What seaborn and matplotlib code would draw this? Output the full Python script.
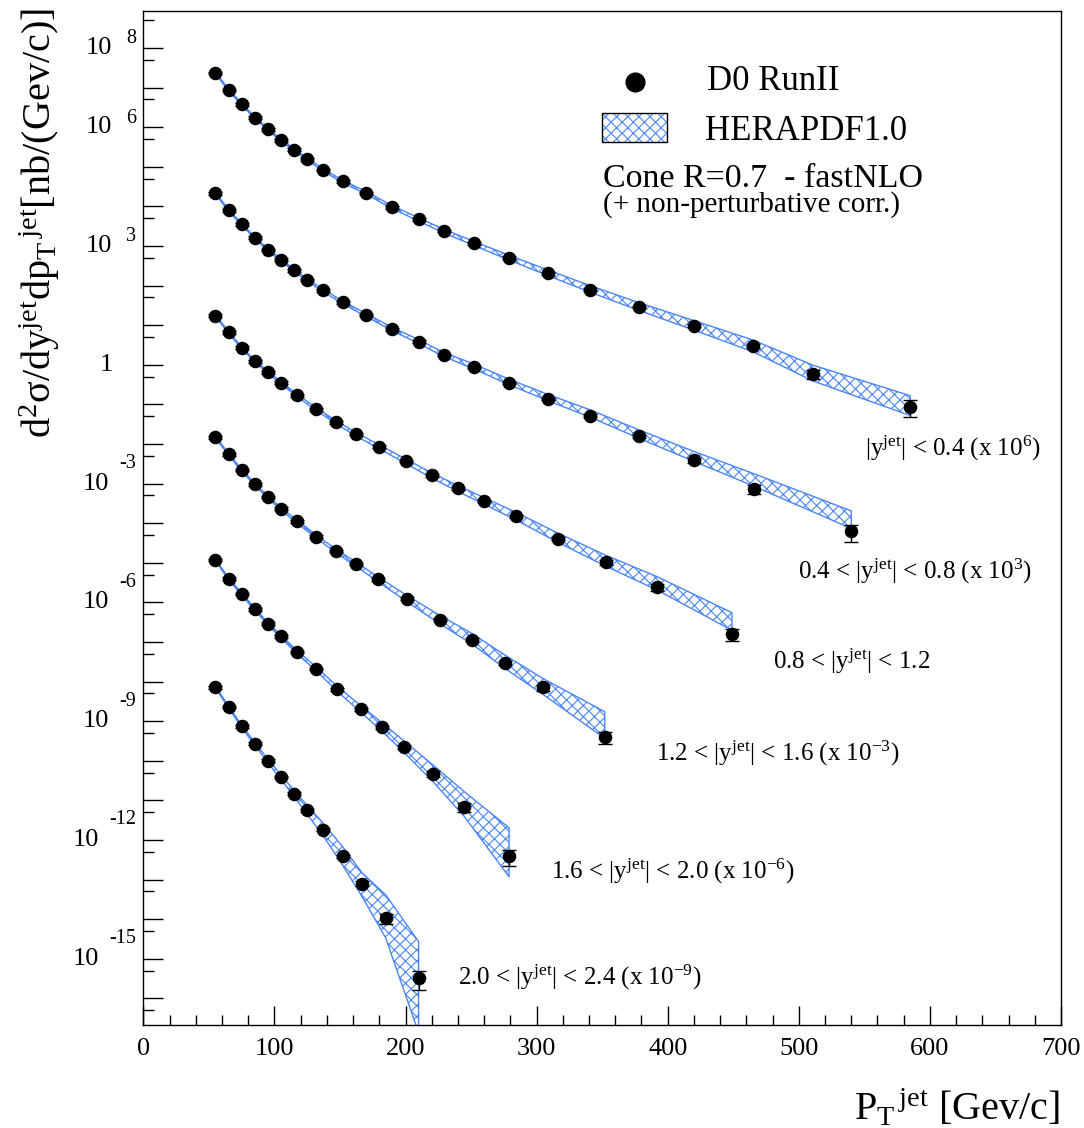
import numpy as np
import pandas as pd
import matplotlib
matplotlib.use("Agg")
import matplotlib.pyplot as plt
from matplotlib.patches import Rectangle
from matplotlib.lines import Line2D
import seaborn as sns

# Measured points: pT bin positions [GeV], cross sections [nb/GeV] (unscaled),
# relative data errors, and HERAPDF1.0 theory (ratio theory/data, rel. uncertainty)
pt_y1 = [55, 65, 75, 85, 95, 105, 115, 125, 137, 152, 170, 190, 210, 229, 252, 279, 309, 341, 378, 420, 465, 511, 585]
xs_y1 = [23.4, 8.71, 3.80, 1.74, 0.891, 0.468, 0.269, 0.155, 0.0832, 0.0427, 0.0219, 9.55e-3, 4.68e-3,
         2.40e-3, 1.17e-3, 5.01e-4, 2.04e-4, 7.94e-5, 2.88e-5, 9.77e-6, 3.02e-6, 5.89e-7, 8.71e-8]
err_y1 = [0.08, 0.08, 0.08, 0.08, 0.08, 0.08, 0.08, 0.08, 0.08, 0.08, 0.08, 0.08, 0.08, 0.08, 0.08, 0.08,
          0.08, 0.08, 0.08, 0.08, 0.12, 0.25, 0.45]
hr_y1 = [1.0, 1.0, 1.0, 1.0, 1.0, 1.0, 1.0, 1.0, 1.0, 1.0, 1.0, 1.0, 1.0, 1.0, 1.0, 1.02, 1.03, 1.05, 1.05,
         1.05, 1.05, 1.15, 1.25]
hu_y1 = [0.05, 0.05, 0.05, 0.05, 0.05, 0.055, 0.06, 0.06, 0.065, 0.07, 0.075, 0.085, 0.095, 0.105, 0.12,
         0.14, 0.16, 0.19, 0.22, 0.27, 0.33, 0.43, 0.52]

pt_y2 = [55, 65, 75, 85, 95, 105, 115, 125, 137, 152, 170, 190, 210, 229, 252, 279, 309, 341, 378, 420, 466, 540]
xs_y2 = [21.4, 7.94, 3.51, 1.62, 0.794, 0.447, 0.240, 0.138, 0.0759, 0.0376, 0.0180, 7.94e-3, 3.80e-3,
         1.78e-3, 8.75e-4, 3.47e-4, 1.36e-4, 5.19e-5, 1.55e-5, 3.89e-6, 7.24e-7, 6.17e-8]
err_y2 = [0.08, 0.08, 0.08, 0.08, 0.08, 0.08, 0.08, 0.08, 0.08, 0.08, 0.08, 0.08, 0.08, 0.08, 0.08, 0.08,
          0.08, 0.08, 0.08, 0.15, 0.25, 0.47]
hr_y2 = [1.0, 1.0, 1.0, 1.0, 1.0, 1.0, 1.0, 1.0, 1.0, 1.0, 1.0, 1.0, 1.02, 1.03, 1.05, 1.07, 1.1, 1.15,
         1.18, 1.3, 1.8, 2.25]
hu_y2 = [0.05, 0.05, 0.05, 0.05, 0.055, 0.06, 0.06, 0.065, 0.07, 0.075, 0.085, 0.095, 0.11, 0.12, 0.14,
         0.16, 0.18, 0.21, 0.24, 0.28, 0.35, 0.47]

pt_y3 = [55, 65, 75, 85, 95, 105, 117, 132, 147, 162, 180, 200, 220, 240, 260, 284, 316, 353, 392, 449]
xs_y3 = [17.4, 6.61, 2.69, 1.23, 0.646, 0.351, 0.170, 0.0759, 0.0355, 0.0178, 8.51e-3, 3.72e-3, 1.62e-3,
         7.59e-4, 3.63e-4, 1.48e-4, 4.07e-5, 1.02e-5, 2.40e-6, 1.62e-7]
err_y3 = [0.08, 0.08, 0.08, 0.08, 0.08, 0.08, 0.08, 0.08, 0.08, 0.08, 0.08, 0.08, 0.08, 0.08, 0.08, 0.08,
          0.08, 0.12, 0.18, 0.33]
hr_y3 = [1.0, 1.0, 1.0, 1.0, 1.0, 1.0, 1.0, 1.0, 1.0, 1.0, 1.0, 1.0, 1.0, 1.0, 1.02, 1.05, 1.1, 1.15,
         1.35, 2.3]
hu_y3 = [0.05, 0.05, 0.05, 0.055, 0.06, 0.065, 0.07, 0.08, 0.09, 0.10, 0.11, 0.13, 0.15, 0.17, 0.19, 0.22,
         0.26, 0.31, 0.37, 0.47]

pt_y4 = [55, 65, 75, 85, 95, 105, 117, 132, 147, 162, 179, 201, 226, 251, 276, 305, 352]
xs_y4 = [14.9, 5.50, 2.19, 0.955, 0.457, 0.232, 0.111, 0.0457, 0.0200, 9.33e-3, 3.80e-3, 1.23e-3,
         3.63e-4, 1.15e-4, 3.02e-5, 7.08e-6, 3.89e-7]
err_y4 = [0.08, 0.08, 0.08, 0.08, 0.08, 0.08, 0.08, 0.08, 0.08, 0.08, 0.08, 0.08, 0.08, 0.08, 0.12, 0.18, 0.33]
hr_y4 = [1.0, 1.0, 1.0, 1.0, 1.0, 1.0, 1.0, 1.0, 1.0, 1.0, 1.02, 1.03, 1.05, 1.08, 1.12, 1.17, 2.7]
hu_y4 = [0.05, 0.05, 0.055, 0.06, 0.065, 0.07, 0.08, 0.09, 0.10, 0.12, 0.14, 0.18, 0.24, 0.30, 0.37,
         0.43, 0.65]

pt_y5 = [55, 65, 75, 85, 95, 105, 117, 132, 148, 166, 182, 199, 221, 245, 279]
xs_y5 = [11.7, 3.98, 1.62, 0.676, 0.288, 0.138, 0.0562, 0.0209, 6.46e-3, 2.00e-3, 7.08e-4, 2.24e-4,
         4.68e-5, 6.76e-6, 3.89e-7]
err_y5 = [0.08, 0.08, 0.08, 0.08, 0.08, 0.08, 0.08, 0.08, 0.08, 0.08, 0.08, 0.12, 0.15, 0.25, 0.43]
hr_y5 = [1.0, 1.0, 1.0, 1.0, 1.0, 1.0, 1.0, 1.0, 1.02, 1.03, 1.04, 1.06, 1.15, 1.5, 2.75]
hu_y5 = [0.05, 0.055, 0.06, 0.065, 0.07, 0.08, 0.09, 0.11, 0.14, 0.19, 0.24, 0.32, 0.45, 0.62, 0.89]

pt_y6 = [55, 65, 75, 85, 95, 105, 115, 125, 137, 152, 167, 185, 210]
xs_y6 = [7.24, 2.29, 0.741, 0.269, 0.100, 0.0389, 0.0148, 5.62e-3, 1.82e-3, 3.89e-4, 7.94e-5, 1.05e-5, 3.31e-7]
err_y6 = [0.08, 0.08, 0.08, 0.08, 0.08, 0.08, 0.08, 0.08, 0.08, 0.10, 0.15, 0.28, 0.5]
hr_y6 = [1.0, 1.0, 1.0, 1.0, 1.0, 1.0, 1.02, 1.05, 1.1, 1.17, 1.15, 2.1, 4.1]
hu_y6 = [0.05, 0.06, 0.07, 0.08, 0.10, 0.13, 0.18, 0.25, 0.35, 0.49, 0.6, 0.85, 0.99]

scales = [1e6, 1e3, 1.0, 1e-3, 1e-6, 1e-9]
bin_labels = [
    "|y$^{\\mathregular{jet}}$| < 0.4 (x 10$^{\\mathregular{6}}$)",
    "0.4 < |y$^{\\mathregular{jet}}$| < 0.8 (x 10$^{\\mathregular{3}}$)",
    "0.8 < |y$^{\\mathregular{jet}}$| < 1.2",
    "1.2 < |y$^{\\mathregular{jet}}$| < 1.6 (x 10$^{\\mathregular{-3}}$)",
    "1.6 < |y$^{\\mathregular{jet}}$| < 2.0 (x 10$^{\\mathregular{-6}}$)",
    "2.0 < |y$^{\\mathregular{jet}}$| < 2.4 (x 10$^{\\mathregular{-9}}$)",
]
ytick_exps = [8, 6, 3, -3, -6, -9, -12, -15]

all_pt = [pt_y1, pt_y2, pt_y3, pt_y4, pt_y5, pt_y6]
all_xs = [xs_y1, xs_y2, xs_y3, xs_y4, xs_y5, xs_y6]
all_err = [err_y1, err_y2, err_y3, err_y4, err_y5, err_y6]
all_hr = [hr_y1, hr_y2, hr_y3, hr_y4, hr_y5, hr_y6]
all_hu = [hu_y1, hu_y2, hu_y3, hu_y4, hu_y5, hu_y6]

frames = []
for i in range(6):
    d = pd.DataFrame({"pt": all_pt[i], "xsec": all_xs[i], "err": all_err[i],
                      "hratio": all_hr[i], "hunc": all_hu[i]})
    d["bin"] = i
    d["scaled"] = d["xsec"] * scales[i]
    d["theory"] = d["scaled"] * d["hratio"]
    frames.append(d)
df = pd.concat(frames, ignore_index=True)

# Style
sns.set_style("ticks")
plt.rcParams["font.family"] = ["Liberation Serif", "DejaVu Serif"]
plt.rcParams["mathtext.fontset"] = "custom"
plt.rcParams["mathtext.rm"] = "Liberation Serif"
plt.rcParams["mathtext.it"] = "Liberation Serif"
plt.rcParams["mathtext.bf"] = "Liberation Serif:bold"
plt.rcParams["hatch.linewidth"] = 0.8
plt.rcParams["text.color"] = "black"

BLUE = "#4a86f7"
W, H = 1084, 1128
PX = 0.72  # points per pixel at dpi 100

fig = plt.figure(figsize=(W / 100, H / 100), dpi=100)
fig.patch.set_facecolor("white")
ax = fig.add_axes([143.3 / W, 1 - 1025.3 / H, (1061 - 143.3) / W, (1025.3 - 10.7) / H])

# theory bands
for i, d in df.groupby("bin"):
    lo = d["theory"] * (1 - d["hunc"])
    hi = d["theory"] * (1 + d["hunc"])
    ax.fill_between(d["pt"], lo, hi, facecolor="none", edgecolor=BLUE, hatch="xxx",
                    linewidth=1.0, zorder=2)

# data error bars + points
for i, d in df.groupby("bin"):
    e = d["scaled"] * d["err"]
    ax.errorbar(d["pt"], d["scaled"], yerr=[e, e], fmt="none", ecolor="black",
                elinewidth=1.0, capsize=5, capthick=1.0, zorder=4)
sns.scatterplot(data=df, x="pt", y="scaled", color="black", s=95, linewidth=0,
                zorder=5, legend=False, ax=ax)

ax.set_yscale("log")
ax.set_xlim(0, 700)
ax.set_ylim(10 ** -16.68, 10 ** 8.94)

# ticks
ax.set_xticks(np.arange(0, 701, 100))
ax.set_xticks(np.arange(0, 701, 20), minor=True)
ax.set_xticklabels([str(v) for v in range(0, 701, 100)], fontsize=19)

ax.set_yticks([10.0 ** k for k in range(-16, 9)])
ax.set_yticklabels([])
ax.set_yticks([5 * 10.0 ** k for k in range(-17, 9)], minor=True)
ax.yaxis.set_minor_formatter(plt.NullFormatter())

# ROOT-like "10 ^n" labels: exponent right-aligned next to the axis, "10" before it
for k in ytick_exps:
    raise_px = 9 if k > 0 else 20
    gap_px = 14 if k > 0 else 10
    ex = ax.annotate(str(k), xy=(0, 10.0 ** k), xycoords=("axes fraction", "data"),
                     xytext=(-7.3 * PX, raise_px * PX), textcoords="offset points",
                     ha="right", va="center", fontsize=14.5, annotation_clip=False)
    ax.annotate("10", xy=(0, 0.5), xycoords=ex, xytext=(-gap_px * PX, -raise_px * PX),
                textcoords="offset points", ha="right", va="center", fontsize=19,
                annotation_clip=False)
ax.annotate("1", xy=(0, 1.0), xycoords=("axes fraction", "data"),
            xytext=(-30.3 * PX, 0), textcoords="offset points",
            ha="right", va="center", fontsize=19, annotation_clip=False)

ax.tick_params(axis="both", which="both", direction="in", colors="black", width=1.0)
ax.tick_params(axis="y", which="major", length=14.5, pad=5)
ax.tick_params(axis="y", which="minor", length=7.7)
ax.tick_params(axis="x", which="major", length=14, pad=9)
ax.tick_params(axis="x", which="minor", length=7.5)
for s in ax.spines.values():
    s.set_color("black")
    s.set_linewidth(1.0)
ax.set_xlabel("")
ax.set_ylabel("")

# axis titles
fig.text(1060 / W, 1 - 1120 / H, "P$_{\\mathregular{T}}{}^{\\,\\mathregular{jet}}$ [Gev/c]",
         fontsize=29, ha="right", va="baseline")
fig.text(40 / W, 1 - 8 / H,
         "d$^{\\mathregular{2}}$$\\sigma$/dy$^{\\mathregular{jet}}$dp$_{\\mathregular{T}}{}^{\\,\\mathregular{jet}}$[nb/(Gev/c)]",
         fontsize=29, rotation=90, ha="center", va="top")

# bin labels
label_pos = [(865, 455.7), (798.3, 578.3), (772.7, 669.3), (656, 761), (550.7, 878.3), (458.3, 985)]
for (px, py), txt in zip(label_pos, bin_labels):
    fig.text(px / W, 1 - py / H, txt, fontsize=18, ha="left", va="baseline")

# legend (drawn by hand, ROOT style)
fig.add_artist(Line2D([635 / W], [1 - 81.7 / H], marker="o", markersize=13.5,
                      color="black", linestyle="none"))
fig.add_artist(Rectangle((602 / W, 1 - 142.3 / H), 65 / W, 29.6 / H, facecolor="white",
                         edgecolor=BLUE, hatch="xxx", linewidth=0))
fig.add_artist(Rectangle((602 / W, 1 - 142.3 / H), 65 / W, 29.6 / H, fill=False,
                         edgecolor="black", linewidth=1.0))
fig.text(707 / W, 1 - 90 / H, "D0 RunII", fontsize=25, ha="left", va="baseline")
fig.text(705 / W, 1 - 140 / H, "HERAPDF1.0", fontsize=25, ha="left", va="baseline")
fig.text(602.7 / W, 1 - 187 / H, "Cone R=0.7  - fastNLO", fontsize=24.5, ha="left", va="baseline")
fig.text(602.7 / W, 1 - 212 / H, "(+ non-perturbative corr.)", fontsize=21, ha="left", va="baseline")

fig.savefig("out.png", dpi=100, facecolor="white")
